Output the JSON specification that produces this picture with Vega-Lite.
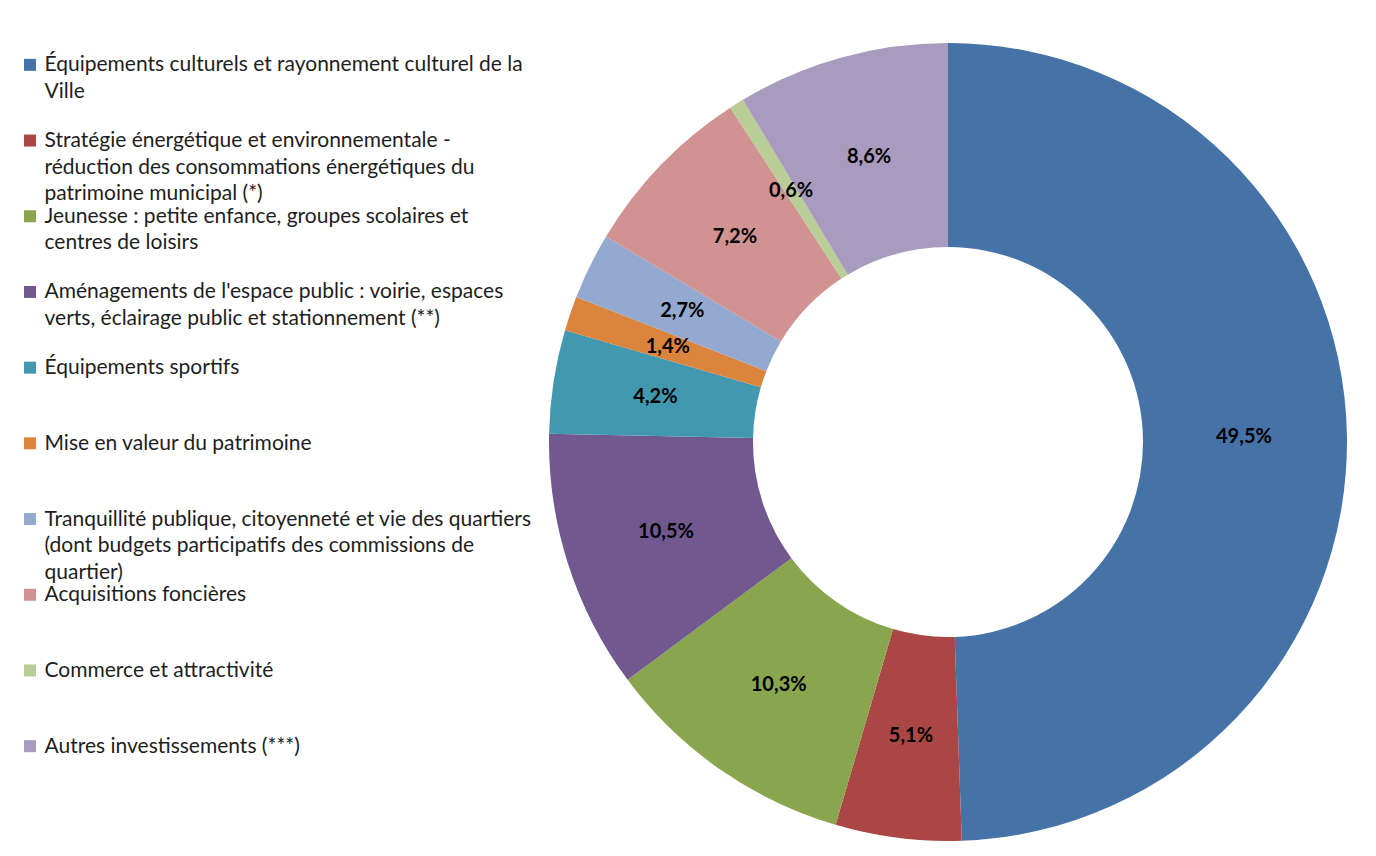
{
  "$schema": "https://vega.github.io/schema/vega-lite/v6.json",
  "padding": {"left": 20, "top": 27, "right": 0, "bottom": 0},
  "background": "white",
  "config": {
    "view": {"stroke": null},
    "font": "Lato",
    "locale": {"number": {"decimal": ",", "thousands": "\u00a0", "grouping": [3], "currency": ["", "\u00a0€"]}}
  },
  "datasets": {
    "budget": [
      {"categorie": "Équipements culturels et rayonnement culturel de la Ville", "part": 0.495, "rang": 1},
      {"categorie": "Stratégie énergétique et environnementale - réduction des consommations énergétiques du patrimoine municipal (*)", "part": 0.051, "rang": 2},
      {"categorie": "Jeunesse : petite enfance, groupes scolaires et centres de loisirs", "part": 0.103, "rang": 3},
      {"categorie": "Aménagements de l'espace public : voirie, espaces verts, éclairage public et stationnement (**)", "part": 0.105, "rang": 4},
      {"categorie": "Équipements sportifs", "part": 0.042, "rang": 5},
      {"categorie": "Mise en valeur du patrimoine", "part": 0.014, "rang": 6},
      {"categorie": "Tranquillité publique, citoyenneté et vie des quartiers (dont budgets participatifs des commissions de quartier)", "part": 0.027, "rang": 7},
      {"categorie": "Acquisitions foncières", "part": 0.072, "rang": 8},
      {"categorie": "Commerce et attractivité", "part": 0.006, "rang": 9},
      {"categorie": "Autres investissements (***)", "part": 0.086, "rang": 10}
    ]
  },
  "bounds": "flush",
  "spacing": 508,
  "hconcat": [
    {
      "width": 20,
      "height": 757,
      "data": {"name": "budget"},
      "mark": {"type": "point", "shape": "square", "filled": true, "size": 144, "opacity": 1},
      "encoding": {
        "y": {
          "field": "categorie",
          "type": "nominal",
          "sort": [
            "Équipements culturels et rayonnement culturel de la Ville",
            "Stratégie énergétique et environnementale - réduction des consommations énergétiques du patrimoine municipal (*)",
            "Jeunesse : petite enfance, groupes scolaires et centres de loisirs",
            "Aménagements de l'espace public : voirie, espaces verts, éclairage public et stationnement (**)",
            "Équipements sportifs",
            "Mise en valeur du patrimoine",
            "Tranquillité publique, citoyenneté et vie des quartiers (dont budgets participatifs des commissions de quartier)",
            "Acquisitions foncières",
            "Commerce et attractivité",
            "Autres investissements (***)"
          ],
          "axis": {
            "orient": "right",
            "title": null,
            "domain": false,
            "ticks": false,
            "tickSize": 0,
            "grid": false,
            "labelPadding": 4,
            "labelAlign": "left",
            "labelBaseline": "middle",
            "labelFont": "Lato",
            "labelFontSize": 21,
            "labelLineHeight": 26.5,
            "labelColor": "#1e1e1e",
            "labelLimit": 0,
            "labelOverlap": false,
            "labelBound": false,
            "labelExpr": "datum.value == 'Équipements culturels et rayonnement culturel de la Ville' ? ['Équipements culturels et rayonnement culturel de la', 'Ville'] : datum.value == 'Stratégie énergétique et environnementale - réduction des consommations énergétiques du patrimoine municipal (*)' ? ['Stratégie énergétique et environnementale -', 'réduction des consommations énergétiques du', 'patrimoine municipal (*)'] : datum.value == 'Jeunesse : petite enfance, groupes scolaires et centres de loisirs' ? ['Jeunesse : petite enfance, groupes scolaires et', 'centres de loisirs'] : datum.value == \"Aménagements de l'espace public : voirie, espaces verts, éclairage public et stationnement (**)\" ? [\"Aménagements de l'espace public : voirie, espaces\", 'verts, éclairage public et stationnement (**)'] : datum.value == 'Tranquillité publique, citoyenneté et vie des quartiers (dont budgets participatifs des commissions de quartier)' ? ['Tranquillité publique, citoyenneté et vie des quartiers', '(dont budgets participatifs des commissions de', 'quartier)'] : datum.label"
          }
        },
        "color": {
          "field": "categorie",
          "type": "nominal",
          "legend": null,
          "scale": {
            "domain": [
              "Équipements culturels et rayonnement culturel de la Ville",
              "Stratégie énergétique et environnementale - réduction des consommations énergétiques du patrimoine municipal (*)",
              "Jeunesse : petite enfance, groupes scolaires et centres de loisirs",
              "Aménagements de l'espace public : voirie, espaces verts, éclairage public et stationnement (**)",
              "Équipements sportifs",
              "Mise en valeur du patrimoine",
              "Tranquillité publique, citoyenneté et vie des quartiers (dont budgets participatifs des commissions de quartier)",
              "Acquisitions foncières",
              "Commerce et attractivité",
              "Autres investissements (***)"
            ],
            "range": ["#4572A7", "#AA4643", "#89A54E", "#71588F", "#4198AF", "#DB843D", "#93A9CF", "#D19392", "#B9CD96", "#A99BBD"]
          }
        }
      }
    },
    {
      "width": 800,
      "height": 830,
      "data": {"name": "budget"},
      "layer": [
        {
          "mark": {"type": "arc", "outerRadius": 399, "innerRadius": 195},
          "encoding": {
            "theta": {"field": "part", "type": "quantitative", "stack": true},
            "order": {"field": "rang", "type": "quantitative"},
            "color": {"field": "categorie", "type": "nominal", "legend": null}
          }
        },
        {
          "mark": {"type": "text", "radius": 296, "font": "Lato", "fontSize": 20, "fontWeight": "bold", "color": "#000000"},
          "encoding": {
            "theta": {"field": "part", "type": "quantitative", "stack": true},
            "order": {"field": "rang", "type": "quantitative"},
            "text": {"field": "part", "type": "quantitative", "format": ".1%"}
          }
        }
      ]
    }
  ]
}
